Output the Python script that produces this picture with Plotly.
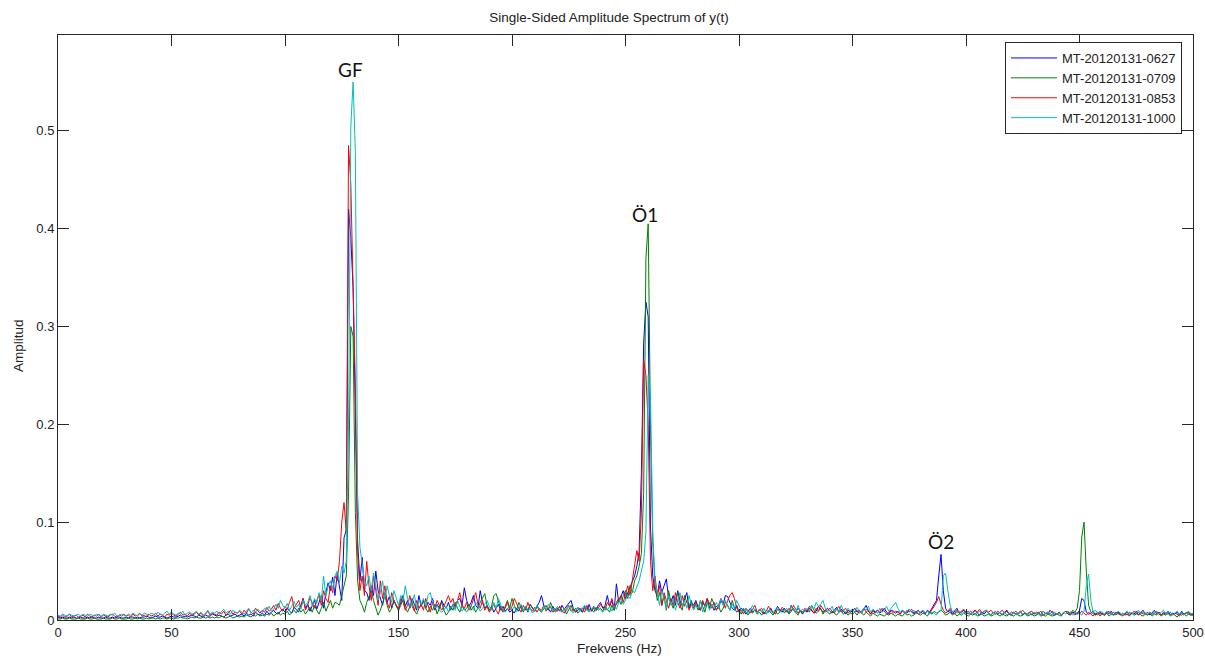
import numpy as np
import plotly.graph_objects as go

# Frequency bins (Hz), 1 Hz spacing
freq_hz = np.arange(0, 501)

# Single-sided amplitude spectra, in units of 1e-3
amp_0627 = [
    3,2,3,2,2,3,2,3,2,2,  3,2,2,3,2,3,2,2,3,2,  2,3,2,2,3,2,3,3,2,2,  3,2,3,3,2,3,2,3,3,4,
    3,2,3,4,3,3,4,3,2,3,  4,3,3,4,5,3,4,3,4,5,  4,3,5,4,3,5,4,4,6,5,  4,5,4,3,5,6,4,5,6,4,
    5,6,4,7,5,6,4,8,6,5,  7,5,9,6,8,10,7,6,9,11,
    8,12,9,7,13,10,8,15,22,12,  16,9,14,20,11,18,25,12,28,38,
    30,44,25,48,32,20,84,92,
    420,390,340,200,80,40,64,30,28,20,35,25,
    50,30,22,15,28,18,24,12,20,15,
    10,18,25,14,20,12,22,16,10,25,  14,20,12,18,15,22,10,16,12,20,  15,12,18,10,16,14,20,22,15,33,
    20,14,18,25,15,12,30,18,12,15,  10,14,8,12,16,10,14,9,12,8,
    10,7,12,9,15,10,13,8,16,12,  9,14,18,25,15,10,12,8,14,10,  12,9,15,11,14,18,20,12,8,10,
    12,8,14,10,16,9,12,10,15,18,  12,15,25,14,20,10,37,18,25,30,
    22,28,35,40,45,55,70,150,283,325,  310,95,45,30,25,40,28,35,42,22,
    18,25,15,30,20,14,22,28,12,18,  15,20,12,10,18,14,22,12,16,10,  14,12,20,16,25,24,18,12,10,15,
    8,12,10,6,9,12,8,10,7,11,  9,6,10,8,12,7,9,14,10,8,  12,9,7,15,10,8,12,9,6,10,
    8,12,10,7,9,14,11,8,10,12,  9,7,10,13,8,11,9,6,10,8,  9,12,8,10,7,11,15,9,6,10,
    8,10,7,9,12,8,6,10,9,7,  9,6,10,8,7,11,9,6,8,10,  7,9,6,10,8,12,15,20,45,67,
    30,12,8,10,6,9,12,7,8,10,
    7,9,6,8,10,7,5,8,6,9,  7,5,8,6,9,7,5,8,10,6,  5,8,6,7,9,5,7,6,8,5,
    7,6,8,5,9,7,6,10,7,5,  6,8,5,7,9,6,5,8,7,6,  10,22,20,8,6,7,9,5,8,6,
    7,5,8,6,9,5,7,8,6,5,  6,8,5,7,6,9,5,7,10,6,  8,5,7,10,6,8,5,7,6,9,
    5,7,6,8,5,9,6,7,8,5,  6,
]

amp_0709 = [
    1,1,2,1,1,2,1,1,1,2,  1,1,1,2,1,1,2,1,1,1,  2,1,1,1,2,1,1,2,1,1,  1,2,1,1,2,1,2,1,1,2,
    1,2,2,1,2,1,2,2,1,2,  2,1,2,2,3,2,2,1,2,3,  2,3,2,2,3,2,3,2,3,2,  3,2,4,3,2,3,4,2,3,4,
    3,4,3,5,4,3,5,4,6,4,  5,4,6,5,7,4,6,8,5,7,
    6,9,5,8,10,7,12,8,11,6,  9,13,8,15,10,6,12,18,9,14,
    20,12,18,17,15,25,35,45,
    130,300,290,110,40,20,15,8,18,25,
    30,20,12,5,10,18,25,15,8,12,20,14,
    10,15,22,12,8,14,18,10,6,12,  15,20,12,8,14,10,16,6,12,18,  10,5,8,14,10,18,12,8,15,10,
    12,16,10,14,8,12,18,22,27,15,  10,14,25,27,18,12,8,15,20,12,
    22,15,10,18,12,8,14,10,16,12,  9,14,10,8,12,15,10,18,12,8,  10,14,8,12,6,10,15,9,12,7,
    10,8,12,14,9,11,8,13,10,12,  9,14,11,8,15,10,18,22,16,25,
    30,22,35,28,40,45,55,68,130,370,  405,200,80,35,20,28,15,25,10,30,
    18,12,22,28,15,10,25,18,14,20,  12,16,10,20,14,8,18,12,22,15,  10,14,8,12,18,15,10,20,12,8,
    10,6,12,8,5,9,7,11,6,8,  5,8,6,10,7,5,9,6,8,11,  7,10,6,9,12,8,5,10,7,9,
    11,8,15,10,7,9,12,6,10,8,  6,9,7,5,8,10,6,8,5,7,  6,8,5,9,7,5,8,6,4,7,
    5,4,6,5,4,6,5,7,5,4,  6,5,4,7,5,6,4,5,8,6,  5,7,6,4,8,6,9,7,8,10,
    8,5,6,8,5,7,4,6,5,7,
    5,4,6,5,7,4,5,6,4,5,  6,4,5,7,5,4,6,5,4,6,  5,4,6,5,4,5,7,4,5,6,
    4,5,6,4,5,4,6,5,4,5,  6,5,4,7,9,8,6,10,8,12,  30,85,100,50,15,8,6,5,7,4,
    6,5,7,4,6,5,8,6,5,7,  5,6,4,7,5,6,8,5,4,6,  5,7,4,6,5,8,4,6,5,7,
    4,6,5,3,6,5,7,4,6,5,  5,
]

amp_0853 = [
    4,3,5,3,4,6,3,4,5,3,  4,5,3,6,4,3,5,4,6,3,  5,4,3,5,6,4,3,5,4,6,  4,5,3,6,4,5,7,4,5,3,
    6,4,5,7,4,6,5,3,6,5,  7,5,4,6,8,5,6,4,7,5,  6,8,5,7,4,6,9,5,7,6,  5,8,6,9,5,7,10,6,8,7,
    9,6,10,7,11,8,6,12,9,7,  10,8,13,9,11,15,10,17,12,9,
    14,11,18,24,12,16,20,13,22,10,  15,23,17,12,20,26,15,30,22,18,
    35,28,45,40,60,100,120,90,
    485,445,340,240,70,30,45,25,60,35,
    20,45,30,15,40,22,35,18,12,28,20,15,
    12,22,18,10,15,25,14,9,20,12,  16,10,22,14,8,18,12,20,15,10,  14,20,25,18,22,12,20,28,15,12,
    18,10,14,22,28,16,12,20,10,14,  8,12,16,10,6,14,9,12,18,10,
    14,22,16,12,8,15,10,18,12,9,  13,8,12,10,15,9,12,14,8,11,  9,14,10,7,12,15,9,11,8,13,
    10,12,8,15,11,9,14,10,12,16,  13,10,18,14,22,12,16,20,25,18,
    28,35,25,40,55,71,60,110,265,250,  200,60,30,45,25,35,15,28,20,12,
    22,15,28,18,12,25,14,20,10,16,  12,18,15,10,20,14,22,16,12,18,  10,15,22,18,12,20,25,28,22,12,
    8,10,6,12,9,7,11,15,8,10,  12,7,9,14,10,8,6,11,9,13,  10,8,12,9,15,11,7,10,8,12,
    9,14,10,7,12,9,15,11,8,10,  12,9,7,11,14,8,10,12,7,9,  11,8,10,7,9,12,8,10,6,9,
    7,10,8,12,9,6,8,10,7,9,  8,6,9,7,10,8,11,7,9,6,  8,10,7,9,7,10,14,18,24,16,
    10,7,9,12,8,6,10,7,9,11,
    8,6,9,7,10,8,11,7,9,10,  8,10,7,9,6,8,10,7,9,6,  8,7,9,6,8,10,7,5,8,9,
    6,8,7,9,5,7,8,6,9,7,  6,8,5,7,9,6,8,7,5,8,  6,9,7,5,8,6,4,7,5,8,
    6,5,7,9,6,8,5,7,6,4,  7,5,8,6,9,7,5,8,6,7,  5,8,6,7,9,6,5,8,7,6,
    8,5,7,6,4,7,5,8,6,7,  5,
]

amp_1000 = [
    5,4,6,5,4,6,5,4,5,6,  4,6,5,4,6,5,4,6,5,4,  6,5,4,6,5,7,4,5,6,5,  4,6,5,7,5,4,6,5,7,6,
    5,7,6,4,8,6,5,7,9,6,  8,6,5,7,6,9,5,7,8,6,  7,9,6,8,5,7,10,6,8,7,  9,6,8,11,7,9,6,10,8,7,
    10,8,6,9,12,7,10,8,11,9,  8,12,10,14,9,11,16,12,20,15,
    12,17,10,14,19,13,16,11,20,15,  18,25,14,22,17,28,20,45,24,35,
    40,32,45,50,38,55,48,60,
    200,505,550,478,129,75,60,40,35,45,
    30,48,35,20,28,40,22,35,25,18,30,22,
    15,25,20,35,22,14,18,26,12,20,  16,22,14,25,28,18,12,15,10,8,  10,14,8,12,16,10,20,14,9,12,
    8,12,15,10,18,14,9,12,16,20,  14,10,18,12,22,16,10,8,12,15,
    10,14,8,12,16,10,14,9,12,7,  10,15,12,8,14,10,16,12,9,11,  14,10,8,12,9,14,11,7,10,13,
    9,12,15,10,8,11,14,9,12,10,  8,12,10,14,9,15,11,18,22,16,
    20,25,22,30,28,35,40,50,60,90,  250,230,90,40,25,15,30,20,12,25,
    15,22,10,18,28,14,20,12,25,16,  10,15,12,20,8,14,18,10,16,12,  18,12,22,15,20,14,10,16,12,20,
    14,10,8,12,6,10,15,9,7,11,  8,12,6,10,9,7,11,13,8,10,  9,12,8,14,10,7,15,9,11,8,
    12,9,15,11,18,14,16,20,12,9,  10,14,8,12,7,15,10,8,12,9,  11,8,13,9,7,12,10,14,8,11,
    9,7,12,8,10,14,9,12,16,18,  12,8,10,7,9,11,8,10,6,9,  8,10,7,9,6,8,7,5,9,10,
    45,48,30,15,8,10,7,9,6,8,
    7,9,6,8,5,7,9,6,8,10,  7,5,8,6,9,7,6,8,5,7,  6,8,5,7,9,6,8,5,7,6,
    8,6,7,5,9,6,8,7,5,8,  6,7,5,8,6,9,7,5,8,6,  7,5,9,35,47,20,8,10,7,9,
    8,6,9,7,5,8,6,9,7,5,  7,9,6,8,5,7,10,6,8,7,  6,8,5,9,7,6,8,10,6,7,
    8,5,7,9,6,8,5,7,9,6,  7,
]

series_names = ["MT-20120131-0627", "MT-20120131-0709", "MT-20120131-0853", "MT-20120131-1000"]
series_colors = ["#0000FF", "#008000", "#FF0000", "#00BFBF"]
series_values = [amp_0627, amp_0709, amp_0853, amp_1000]

# Peak labels: (text, frequency in Hz, amplitude)
peak_labels = [("GF", 128.8, 0.563), ("Ö1", 258.8, 0.415), ("Ö2", 388.9, 0.080)]

x_ticks = [0, 50, 100, 150, 200, 250, 300, 350, 400, 450, 500]
y_ticks = [0, 0.1, 0.2, 0.3, 0.4, 0.5]
y_tick_text = ["0", "0.1", "0.2", "0.3", "0.4", "0.5"]

TEXT_FONT = "Liberation Sans"
TEXT_COLOR = "#222222"
AXIS_COLOR = "#262626"

fig = go.Figure()
for name, color, vals in zip(series_names, series_colors, series_values):
    assert len(vals) == len(freq_hz), (name, len(vals))
    fig.add_trace(go.Scatter(
        x=freq_hz, y=np.array(vals) / 1000.0, mode="lines", name=name,
        line=dict(color=color, width=1),
    ))

for text, fx, fy in peak_labels:
    fig.add_annotation(x=fx, y=fy, xref="x", yref="y", text=text, showarrow=False,
                       font=dict(family="Lato", size=19, color="#111111"),
                       xanchor="center", yanchor="middle")

# Axis titles placed in paper coordinates
fig.add_annotation(x=(619 - 58) / 1135, y=(620 - 648) / 585, xref="paper", yref="paper",
                   text="Frekvens (Hz)", showarrow=False, xanchor="center", yanchor="middle",
                   font=dict(family=TEXT_FONT, size=13.5, color=TEXT_COLOR))
fig.add_annotation(x=(18 - 58) / 1135, y=(620 - 345) / 585, xref="paper", yref="paper",
                   text="Amplitud", showarrow=False, textangle=-90, xanchor="center", yanchor="middle",
                   font=dict(family=TEXT_FONT, size=13.5, color=TEXT_COLOR))

axis_common = dict(showline=True, linecolor=AXIS_COLOR, linewidth=1, mirror="ticks",
                   ticks="inside", ticklen=11, tickcolor=AXIS_COLOR, tickwidth=1,
                   showgrid=False, zeroline=False, automargin=False,
                   tickfont=dict(family=TEXT_FONT, size=13, color=TEXT_COLOR))

fig.update_xaxes(range=[0, 500], tickvals=x_ticks, **axis_common)
fig.update_yaxes(range=[0, 0.598], tickvals=y_ticks, ticktext=y_tick_text, **axis_common)

fig.update_layout(
    width=1205, height=656,
    margin=dict(l=58, r=12, t=35, b=36, autoexpand=False),
    plot_bgcolor="white", paper_bgcolor="white",
    title=dict(text="Single-Sided Amplitude Spectrum of y(t)", x=609 / 1205, xref="container",
               xanchor="center", y=1 - 17 / 656, yref="container", yanchor="middle",
               font=dict(family=TEXT_FONT, size=13.5, color=TEXT_COLOR)),
    legend=dict(x=(1005 - 58) / 1135, y=(620 - 42) / 585, xanchor="left", yanchor="top",
                bgcolor="white", bordercolor=AXIS_COLOR, borderwidth=1,
                font=dict(family=TEXT_FONT, size=13, color=TEXT_COLOR),
                itemwidth=46, tracegroupgap=0),
    showlegend=True,
)

fig.write_html("out.html")
